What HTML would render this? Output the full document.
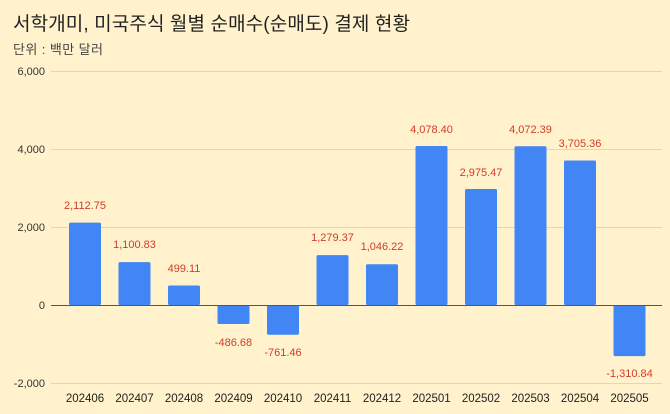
<!DOCTYPE html>
<html><head><meta charset="utf-8"><style>
html,body{margin:0;padding:0;background:#fff2cc;}
svg{display:block;font-family:"Liberation Sans","Noto Sans CJK KR",sans-serif;}
</style></head><body>
<svg width="670" height="414" viewBox="0 0 670 414" xmlns="http://www.w3.org/2000/svg">
<rect width="670" height="414" fill="#fff2cc"/>
<text x="13" y="30" font-size="19" fill="#222" textLength="397" lengthAdjust="spacing">서학개미, 미국주식 월별 순매수(순매도) 결제 현황</text>
<text x="13" y="54" font-size="13" fill="#444" textLength="90" lengthAdjust="spacing">단위 : 백만 달러</text>
<g stroke="#e3d8b5" stroke-width="1">
<line x1="51" y1="71.5" x2="662" y2="71.5"/>
<line x1="51" y1="149.5" x2="662" y2="149.5"/>
<line x1="51" y1="227.5" x2="662" y2="227.5"/>
<line x1="51" y1="383.5" x2="662" y2="383.5"/>
</g>
<g font-size="11" fill="#333" text-anchor="end">
<text x="45" y="75">6,000</text>
<text x="45" y="153">4,000</text>
<text x="45" y="231">2,000</text>
<text x="45" y="309">0</text>
<text x="45" y="387">-2,000</text>
</g>
<g fill="#4285f4">
<rect x="69" y="222.6" width="32" height="82.4" rx="1.5"/>
<rect x="118.5" y="262.1" width="32" height="42.9" rx="1.5"/>
<rect x="168" y="285.5" width="32" height="19.5" rx="1.5"/>
<rect x="217.5" y="305" width="32" height="19" rx="1.5"/>
<rect x="267" y="305" width="32" height="29.7" rx="1.5"/>
<rect x="316.5" y="255.1" width="32" height="49.9" rx="1.5"/>
<rect x="366" y="264.2" width="32" height="40.8" rx="1.5"/>
<rect x="415.5" y="146" width="32" height="159" rx="1.5"/>
<rect x="465" y="189" width="32" height="116" rx="1.5"/>
<rect x="514.5" y="146.2" width="32" height="158.8" rx="1.5"/>
<rect x="564" y="160.5" width="32" height="144.5" rx="1.5"/>
<rect x="613.5" y="305" width="32" height="51.1" rx="1.5"/>
</g>
<line x1="51" y1="305.5" x2="662" y2="305.5" stroke="#555" stroke-width="1"/>
<g font-size="11" fill="#d33b2c" text-anchor="middle">
<text x="85" y="209">2,112.75</text>
<text x="134.5" y="248">1,100.83</text>
<text x="184" y="272">499.11</text>
<text x="233.5" y="346">-486.68</text>
<text x="283" y="356">-761.46</text>
<text x="332.5" y="241">1,279.37</text>
<text x="382" y="250">1,046.22</text>
<text x="431.5" y="133">4,078.40</text>
<text x="481" y="176">2,975.47</text>
<text x="530.5" y="133">4,072.39</text>
<text x="580" y="147">3,705.36</text>
<text x="629.5" y="377">-1,310.84</text>
</g>
<g font-size="11.5" fill="#222" text-anchor="middle">
<text x="85" y="402">202406</text>
<text x="134.5" y="402">202407</text>
<text x="184" y="402">202408</text>
<text x="233.5" y="402">202409</text>
<text x="283" y="402">202410</text>
<text x="332.5" y="402">202411</text>
<text x="382" y="402">202412</text>
<text x="431.5" y="402">202501</text>
<text x="481" y="402">202502</text>
<text x="530.5" y="402">202503</text>
<text x="580" y="402">202504</text>
<text x="629.5" y="402">202505</text>
</g>
</svg>
</body></html>
